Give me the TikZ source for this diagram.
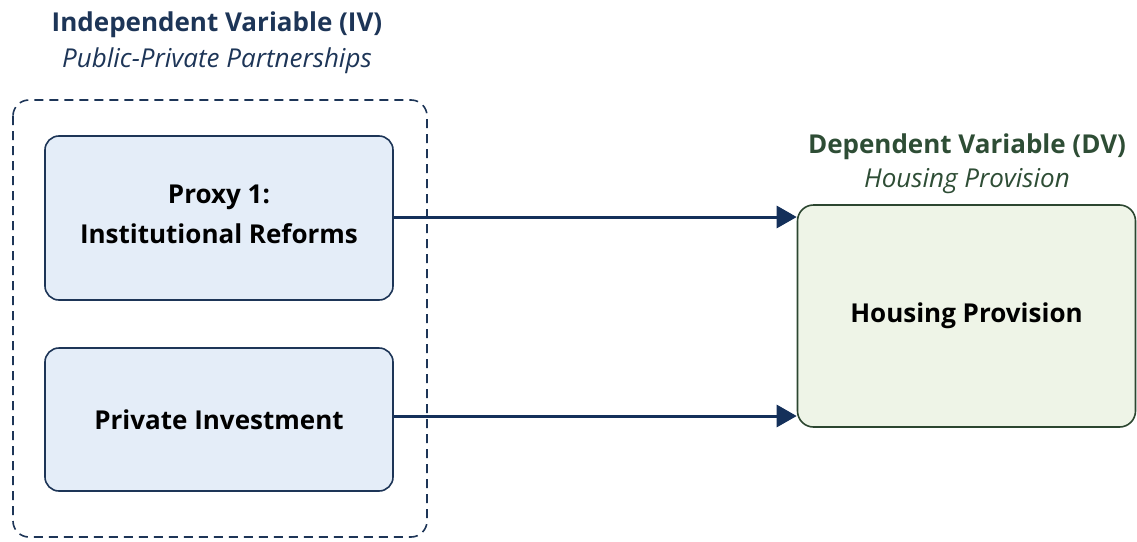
\documentclass[tikz,border=0pt]{standalone}
\usepackage{fontspec}
\setmainfont{Open Sans}
\usetikzlibrary{arrows.meta}
\definecolor{navy}{HTML}{1D3557}
\definecolor{ivfill}{HTML}{E4EDF8}
\definecolor{dvfill}{HTML}{EEF4E7}
\definecolor{dvline}{HTML}{2C4630}
\definecolor{dvtext}{HTML}{2E4D35}
\definecolor{arrowc}{HTML}{14305A}
\tikzset{
  boxtext/.style={align=center, text=black, font=\fontsize{26}{40}\selectfont\bfseries},
  ivbox/.style={boxtext, draw=navy, line width=1.6pt, fill=ivfill, rounded corners=14pt, minimum width=348pt},
  dvbox/.style={boxtext, draw=dvline, line width=1.6pt, fill=dvfill, rounded corners=16pt, minimum width=338pt, minimum height=222pt},
  container/.style={draw=navy, line width=1.6pt, dash pattern=on 9pt off 6pt, rounded corners=16pt},
  conn/.style={draw=arrowc, line width=3pt, -{Triangle[length=20pt,width=22pt]}},
  ivtitle/.style={text=navy, align=center, font=\fontsize{26}{36}\selectfont},
  dvtitle/.style={text=dvtext, align=center, font=\fontsize{26}{34}\selectfont}
}
\begin{document}
\begin{tikzpicture}[x=1pt,y=-1pt]
\useasboundingbox (0,0) rectangle (1137,541);
\draw[container] (13,100) rectangle (427,537);
\node[ivbox, minimum height=164pt] (p1) at (219,218) {};
\node[boxtext] (p1t) at (p1.center) [yshift=4pt] {Proxy 1:\\Institutional Reforms};
\node[ivbox, minimum height=143pt] (p2) at (219,419.5) {Private Investment};
\node[dvbox] (dv) at (966.5,316) {Housing Provision};
\node[ivtitle] (ivt) at (217,43) {\textbf{Independent Variable (IV)}\\\textit{Public-Private Partnerships}};
\node[dvtitle] (dvt) at (967,164) {\textbf{Dependent Variable (DV)}\\\textit{Housing Provision}};
\draw[conn] (p1.east |- 0,217) -- (dv.west |- 0,217);
\draw[conn] (p2.east |- 0,416) -- (dv.west |- 0,416);
\end{tikzpicture}
\end{document}
